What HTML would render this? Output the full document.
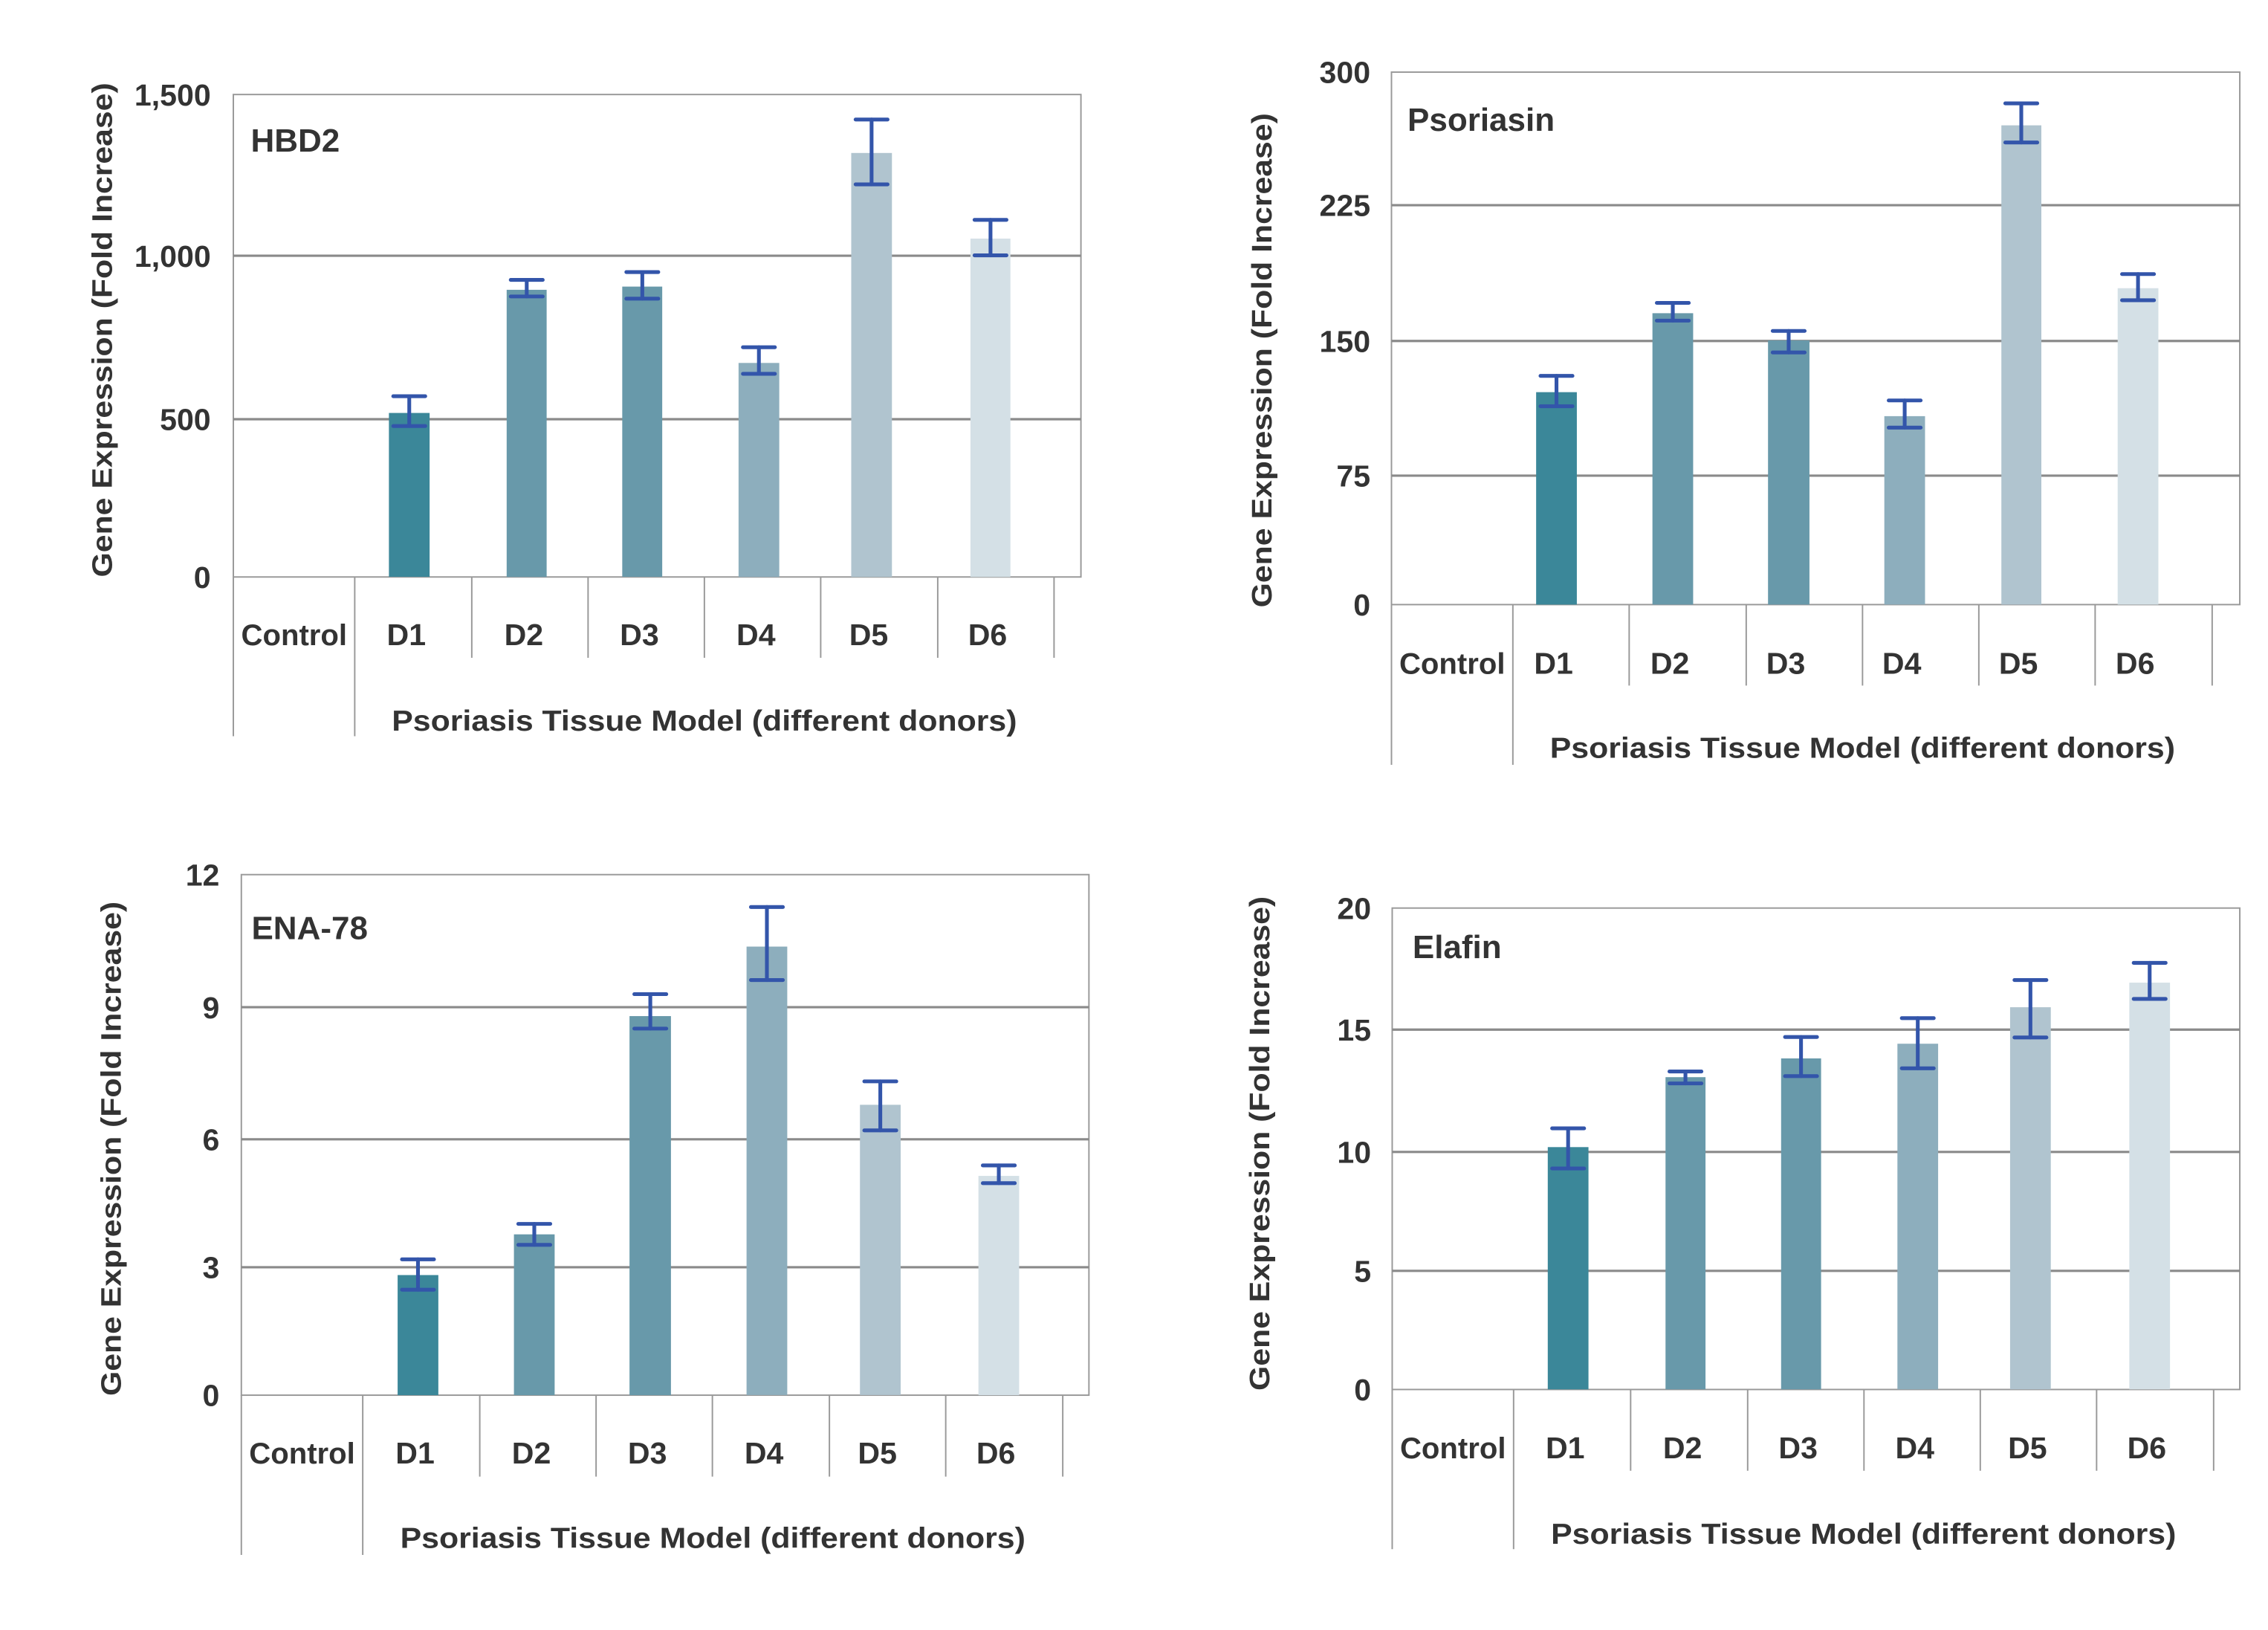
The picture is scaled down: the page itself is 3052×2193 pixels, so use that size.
<!DOCTYPE html>
<html><head><meta charset="utf-8"><style>
html,body{margin:0;padding:0;background:#fff;}
svg{display:block;}
text{font-family:"Liberation Sans",Arial,sans-serif;font-weight:bold;fill:#333;}
</style></head><body>
<svg id="s" xmlns="http://www.w3.org/2000/svg" width="3052" height="2193" viewBox="0 0 1560 1121" preserveAspectRatio="none"></svg>
<script>
var K=2.785;
var cols=["#3b8799","#6899aa","#6899aa","#8daebd","#b0c4cf","#d4e0e6"];
var charts=[
{ox:0,oy:0,L:321,R:1487,T:181,B:1105,grids:[490,803],labels:[["1,500",181],["1,000",490],["500",803],["0",1105]],lx:290,
 div:[488,649,809,969,1129,1290,1450],tb:1260,lb:1410,
 bars:[[535,591,791,759,816],[697,752,555,536,568],[856,911,549,521,572],[1016,1072,695,665,716],[1171,1227,293,229,353],[1335,1390,457,421,489]],
 title:"HBD2",tx:345,ty:268,cy:1215,xty:1380,ytx:140,yty:632},
{ox:780.1,oy:0,L:354,R:1521,T:138,B:1158,grids:[393,653,911],labels:[["300",138],["225",393],["150",653],["75",911],["0",1158]],lx:325,
 div:[521,681,842,1002,1162,1322,1483],tb:1313,lb:1465,
 bars:[[553,609,751,720,778],[713,769,600,580,614],[872,929,652,634,675],[1032,1088,797,767,819],[1193,1248,240,198,273],[1353,1409,552,525,575]],
 title:"Psoriasin",tx:376,ty:228,cy:1270,xty:1432,ytx:175,yty:690},
{ox:0,oy:560.2,L:332,R:1498,T:115,B:1112,grids:[369,622,867],labels:[["12",115],["9",369],["6",622],["3",867],["0",1112]],lx:302,
 div:[499,660,820,980,1141,1301,1462],tb:1268,lb:1418,
 bars:[[547,603,882,852,910],[707,763,804,784,824],[866,923,386,344,410],[1027,1083,253,177,317],[1183,1239,556,511,605],[1346,1402,692,672,706]],
 title:"ENA-78",tx:346,ty:216,cy:1222,xty:1385,ytx:152,yty:640},
{ox:780.1,oy:560.2,L:355,R:1521,T:179,B:1101,grids:[412,646,874],labels:[["20",179],["15",412],["10",646],["5",874],["0",1101]],lx:326,
 div:[522,683,844,1004,1164,1324,1485],tb:1257,lb:1407,
 bars:[[569,625,637,601,678],[731,786,503,492,515],[890,945,467,426,501],[1050,1106,439,390,486],[1205,1261,369,317,427],[1369,1425,322,284,353]],
 title:"Elafin",tx:383,ty:253,cy:1212,xty:1377,ytx:172,yty:630}
];
var o="";
charts.forEach(function(c){
 function X(x){return (c.ox+x/2).toFixed(1);}
 function Y(y){return (c.oy+y/K).toFixed(1);}
 o+='<rect x="'+X(c.L)+'" y="'+Y(c.T)+'" width="'+((c.R-c.L)/2).toFixed(1)+'" height="'+((c.B-c.T)/K).toFixed(1)+'" fill="none" stroke="#999" stroke-width="1"/>';
 c.grids.forEach(function(g){o+='<line x1="'+X(c.L)+'" x2="'+X(c.R)+'" y1="'+Y(g)+'" y2="'+Y(g)+'" stroke="#8a8a8a" stroke-width="1.6"/>';});
 o+='<line x1="'+X(c.L)+'" x2="'+X(c.L)+'" y1="'+Y(c.B)+'" y2="'+Y(c.lb)+'" stroke="#999" stroke-width="1"/>';
 c.div.forEach(function(d,i){var b=i==0?c.lb:c.tb;o+='<line x1="'+X(d)+'" x2="'+X(d)+'" y1="'+Y(c.B)+'" y2="'+Y(b)+'" stroke="#999" stroke-width="1"/>';});
 c.bars.forEach(function(b,i){
  o+='<rect x="'+X(b[0])+'" y="'+Y(b[2])+'" width="'+((b[1]-b[0])/2).toFixed(1)+'" height="'+((c.B-b[2])/K).toFixed(1)+'" fill="'+cols[i]+'"/>';
  var cx=(b[0]+b[1])/2;
  o+='<g stroke="#3355aa" stroke-width="2.6" stroke-linecap="round"><line x1="'+X(cx)+'" x2="'+X(cx)+'" y1="'+Y(b[3])+'" y2="'+Y(b[4])+'"/>';
  o+='<line x1="'+X(cx-22)+'" x2="'+X(cx+22)+'" y1="'+Y(b[3])+'" y2="'+Y(b[3])+'"/><line x1="'+X(cx-22)+'" x2="'+X(cx+22)+'" y1="'+Y(b[4])+'" y2="'+Y(b[4])+'"/></g>';
 });
 c.labels.forEach(function(l){o+='<text x="'+X(c.lx)+'" y="'+(parseFloat(Y(l[1]))+7.5).toFixed(1)+'" font-size="21" text-anchor="end">'+l[0]+'</text>';});
 o+='<text x="'+X(c.tx)+'" y="'+(parseFloat(Y(c.ty))+8).toFixed(1)+'" font-size="22.5">'+c.title+'</text>';
 var cyy=(parseFloat(Y(c.cy))+7.5).toFixed(1);
 o+='<text x="'+X((c.L+c.div[0])/2)+'" y="'+cyy+'" font-size="20.5" text-anchor="middle">Control</text>';
 c.bars.forEach(function(b,i){o+='<text x="'+X((b[0]+b[1])/2-4)+'" y="'+cyy+'" font-size="21" text-anchor="middle">D'+(i+1)+'</text>';});
 var xc=(c.div[0]+c.div[6])/2;
 o+='<text x="'+X(xc)+'" y="'+(parseFloat(Y(c.xty))+7).toFixed(1)+'" font-size="20" text-anchor="middle" textLength="430" lengthAdjust="spacingAndGlyphs">Psoriasis Tissue Model (different donors)</text>';
 var yx=parseFloat(X(c.ytx))+7, yy=parseFloat(Y(c.yty));
 o+='<text transform="translate('+yx.toFixed(1)+','+yy.toFixed(1)+') rotate(-90)" x="0" y="0" font-size="19.5" text-anchor="middle" textLength="340" lengthAdjust="spacingAndGlyphs">Gene Expression (Fold Increase)</text>';
});
document.getElementById("s").innerHTML=o;
</script>
</body></html>
